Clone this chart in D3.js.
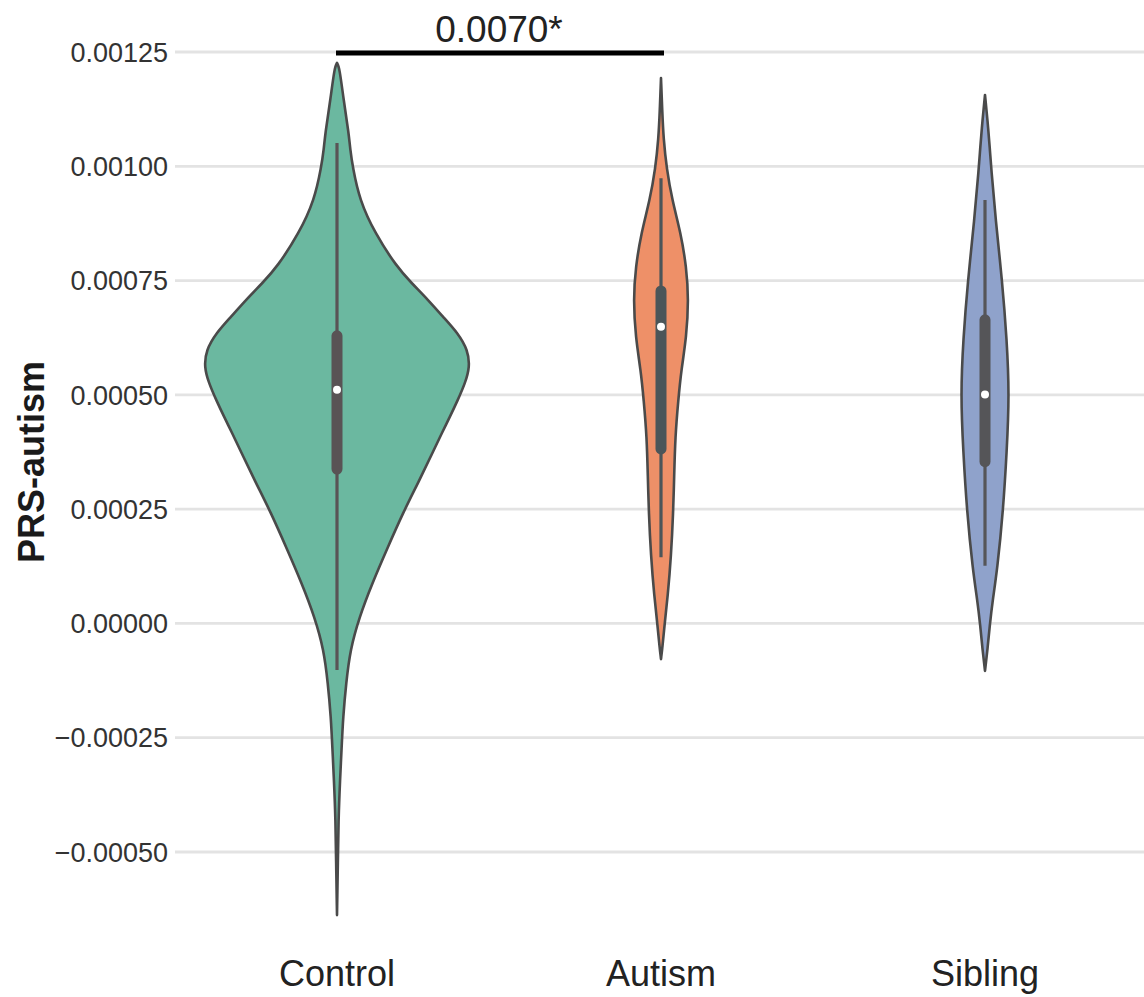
<!DOCTYPE html>
<html>
<head>
<meta charset="utf-8">
<script src="https://cdn.jsdelivr.net/npm/d3@7"></script>
<style>
  html, body { margin: 0; padding: 0; background: #ffffff; }
  svg { display: block; font-family: "Liberation Sans", Arial, Helvetica, sans-serif; }
</style>
</head>
<body>
<svg id="chart" width="1144" height="997"></svg>
<script>
// Groups along the x axis
const categories = ["Control", "Autism", "Sibling"];
const fills = ["#6bb8a0", "#ee9068", "#8fa2cb"];

// Kernel density outlines: [PRS value, relative density]
const controlDensity = [
  [0.001226, 0], [0.001217, 0.018], [0.001145, 0.050], [0.001073, 0.088],
  [0.001036, 0.100], [0.000999, 0.118], [0.000926, 0.170], [0.000854, 0.285],
  [0.000780, 0.45], [0.000745, 0.56], [0.000708, 0.685], [0.000670, 0.80],
  [0.000635, 0.91], [0.000598, 0.985], [0.000561, 1.0], [0.000526, 0.965],
  [0.000489, 0.91], [0.000452, 0.85], [0.000417, 0.79], [0.000380, 0.73],
  [0.000307, 0.61], [0.000244, 0.50], [0.000161, 0.374], [0.000089, 0.267],
  [0.000014, 0.168], [-0.000058, 0.099], [-0.000130, 0.069], [-0.000204, 0.046],
  [-0.000277, 0.034], [-0.000342, 0.023], [-0.000430, 0.011], [-0.000517, 0.007],
  [-0.000638, 0]
];
const autismDensity = [
  [0.001193, 0], [0.001123, 0.009], [0.001060, 0.019], [0.000996, 0.042],
  [0.000926, 0.084], [0.000854, 0.149], [0.000780, 0.191], [0.000708, 0.208],
  [0.000625, 0.191], [0.000555, 0.153], [0.000489, 0.130], [0.000408, 0.107],
  [0.000320, 0.099], [0.000244, 0.092], [0.000148, 0.076], [0.000060, 0.051],
  [-0.000008, 0.025], [-0.000051, 0.011], [-0.000078, 0]
];
const siblingDensity = [
  [0.001156, 0], [0.001101, 0.019], [0.001036, 0.037], [0.000999, 0.046],
  [0.000883, 0.080], [0.000747, 0.130], [0.000622, 0.164], [0.000500, 0.183],
  [0.000377, 0.164], [0.000248, 0.137], [0.000117, 0.092], [0.000049, 0.057],
  [-0.000001, 0.037], [-0.000051, 0.021], [-0.000104, 0]
];
const densities = [controlDensity, autismDensity, siblingDensity];

// Box summaries per group
const whiskerLow  = [-0.000102, 0.000145, 0.000126];
const q1          = [0.000329, 0.000373, 0.000345];
const medians     = [0.000511, 0.000649, 0.000501];
const q3          = [0.000638, 0.000736, 0.000673];
const whiskerHigh = [0.001051, 0.000974, 0.000926];
const boxColors   = ["#595355", "#4b5559", "#555558"];

// Axis ticks and annotation
const yTicks = [-0.0005, -0.00025, 0, 0.00025, 0.0005, 0.00075, 0.001, 0.00125];
const yLabel = "PRS-autism";
const comparison = { from: "Control", to: "Autism", value: 0.00125, label: "0.0070*" };

const svg = d3.select("#chart");

const x = d3.scaleBand().domain(categories).range([175, 1147]).paddingInner(0).paddingOuter(0);
const y = d3.scaleLinear().domain([-0.0005, 0.00125]).range([852, 52]);
const w = d3.scaleLinear().domain([0, 1]).range([0, x.bandwidth() * 0.41]);
const cx = c => x(c) + x.bandwidth() / 2;

// Horizontal grid
svg.append("g")
  .selectAll("line")
  .data(yTicks)
  .join("line")
  .attr("x1", 175).attr("x2", 1144)
  .attr("y1", d => y(d)).attr("y2", d => y(d))
  .attr("stroke", "#e3e3e3")
  .attr("stroke-width", 2.8);

// Y tick labels
const fmt = d => (d < 0 ? "\u2212" : "") + Math.abs(d).toFixed(5);
svg.append("g")
  .selectAll("text")
  .data(yTicks)
  .join("text")
  .attr("x", 168)
  .attr("y", d => y(d))
  .attr("dy", "0.36em")
  .attr("text-anchor", "end")
  .attr("font-size", 27)
  .attr("fill", "#333333")
  .text(fmt);

// Y axis title
svg.append("text")
  .attr("transform", "translate(44,462) rotate(-90)")
  .attr("text-anchor", "middle")
  .attr("font-size", 36)
  .attr("font-weight", "bold")
  .attr("fill", "#1a1a1a")
  .text(yLabel);

// Category labels
svg.append("g")
  .selectAll("text")
  .data(categories)
  .join("text")
  .attr("x", d => cx(d))
  .attr("y", 986)
  .attr("text-anchor", "middle")
  .attr("font-size", 36)
  .attr("fill", "#222222")
  .text(d => d);

// Violins
const area = d3.area()
  .curve(d3.curveBasis)
  .y(d => y(d[0]));

const violins = svg.append("g");
categories.forEach((c, i) => {
  const c0 = cx(c);
  violins.append("path")
    .datum(densities[i])
    .attr("d", area.x0(d => c0 - w(d[1])).x1(d => c0 + w(d[1])))
    .attr("fill", fills[i])
    .attr("stroke", "#4a4a4a")
    .attr("stroke-width", 2.6)
    .attr("stroke-linejoin", "round");
});

// Inner boxes
const boxes = svg.append("g");
categories.forEach((c, i) => {
  const c0 = cx(c);
  boxes.append("line")
    .attr("x1", c0).attr("x2", c0)
    .attr("y1", y(whiskerLow[i])).attr("y2", y(whiskerHigh[i]))
    .attr("stroke", boxColors[i])
    .attr("stroke-width", 3.2);
  boxes.append("line")
    .attr("x1", c0).attr("x2", c0)
    .attr("y1", y(q1[i]) - 4).attr("y2", y(q3[i]) + 4)
    .attr("stroke", boxColors[i])
    .attr("stroke-width", 11)
    .attr("stroke-linecap", "round");
  boxes.append("circle")
    .attr("cx", c0).attr("cy", y(medians[i]))
    .attr("r", 4)
    .attr("fill", "#ffffff");
});

// Significance bracket
const ann = svg.append("g");
ann.append("line")
  .attr("x1", cx(comparison.from) - 1).attr("x2", cx(comparison.to) + 3)
  .attr("y1", y(comparison.value) + 1).attr("y2", y(comparison.value) + 1)
  .attr("stroke", "#000000")
  .attr("stroke-width", 5);
ann.append("text")
  .attr("x", (cx(comparison.from) + cx(comparison.to)) / 2)
  .attr("y", y(comparison.value) - 10)
  .attr("text-anchor", "middle")
  .attr("font-size", 37)
  .attr("fill", "#222222")
  .text(comparison.label);
</script>
</body>
</html>
